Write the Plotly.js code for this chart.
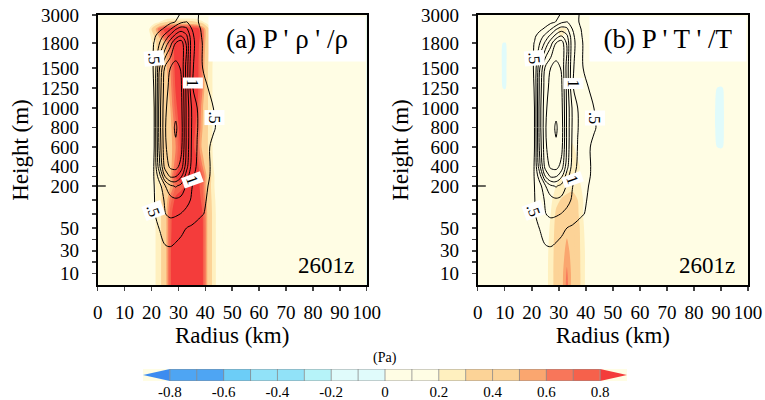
<!DOCTYPE html>
<html><head><meta charset="utf-8">
<script src="https://cdn.plot.ly/plotly-3.0.1.min.js"></script>
<style>html,body{margin:0;padding:0;background:#fff}#chart{width:765px;height:400px}</style>
</head><body><div id="chart"></div>
<script>
// ---------------- data ----------------
const radius = [0,10,16,19,21,23,25,27,29,31,33,35,37,39,41,43,45,48,55,70,90,100];
const heights = [0,10,30,50,100,150,200,300,400,600,800,1000,1250,1500,1800,2100,2400,2700,3000];

// contour-line field (same in both panels)
const lineField = [
 [0,0,0,0,0.05,0.1,0.15,0.15,0.15,0.12,0.1,0.08,0.05,0.03,0,0,0,0,0,0,0,0],
 [0,0,0,0.02,0.08,0.15,0.22,0.22,0.2,0.18,0.15,0.12,0.08,0.05,0.02,0,0,0,0,0,0,0],
 [0,0,0,0.05,0.2,0.35,0.44,0.46,0.43,0.4,0.36,0.3,0.22,0.15,0.1,0.05,0,0,0,0,0,0],
 [0,0,0,0.1,0.3,0.52,0.66,0.68,0.62,0.56,0.5,0.44,0.36,0.26,0.18,0.1,0.04,0,0,0,0,0],
 [0,0,0.03,0.15,0.46,0.72,0.98,1.12,1.08,0.98,0.86,0.72,0.62,0.52,0.42,0.3,0.2,0.08,0,0,0,0],
 [0,0,0.05,0.2,0.48,0.76,1.06,1.32,1.42,1.36,1.16,0.94,0.74,0.58,0.46,0.34,0.24,0.1,0.02,0,0,0],
 [0,0,0.06,0.22,0.5,0.82,1.45,1.9,2.05,1.85,1.45,1.02,0.8,0.62,0.5,0.38,0.28,0.12,0.03,0,0,0],
 [0,0,0.08,0.24,0.52,1.3,2.5,3.1,3.05,2.6,1.75,1.1,0.86,0.68,0.54,0.42,0.3,0.14,0.04,0,0,0],
 [0,0,0.08,0.25,0.52,1.9,3.2,3.6,3.7,3.3,2.2,1.3,0.92,0.7,0.54,0.44,0.33,0.15,0.05,0,0,0],
 [0,0,0.08,0.25,0.5,2.2,3.4,3.8,3.95,3.7,2.4,1.4,0.98,0.74,0.53,0.44,0.36,0.18,0.05,0,0,0],
 [0,0,0.08,0.26,0.5,2.3,3.45,3.85,4.05,3.8,2.4,1.45,1.02,0.8,0.64,0.53,0.45,0.25,0.06,0,0,0],
 [0,0,0.08,0.26,0.5,2.3,3.4,3.75,3.9,3.7,2.4,1.45,1.0,0.76,0.6,0.5,0.4,0.22,0.05,0,0,0],
 [0,0,0.08,0.27,0.52,2.2,3.3,3.65,3.8,3.6,2.35,1.05,0.8,0.62,0.5,0.38,0.3,0.15,0.03,0,0,0],
 [0,0,0.08,0.3,0.55,2.0,3.1,3.5,3.7,3.45,2.3,1.1,0.75,0.5,0.36,0.26,0.18,0.08,0.02,0,0,0],
 [0,0,0.06,0.28,0.52,1.0,1.6,2.3,3.0,3.3,2.4,1.2,0.8,0.48,0.3,0.2,0.1,0.04,0,0,0,0],
 [0,0,0.04,0.2,0.42,0.72,1.15,1.65,2.2,2.5,2.1,1.15,0.72,0.44,0.24,0.12,0.05,0,0,0,0,0],
 [0,0,0.02,0.1,0.25,0.4,0.58,0.95,1.45,1.75,1.6,1.0,0.66,0.4,0.2,0.1,0.03,0,0,0,0,0],
 [0,0,0,0.04,0.1,0.18,0.28,0.38,0.52,0.9,1.02,0.82,0.55,0.32,0.15,0.06,0,0,0,0,0,0],
 [0,0,0,0,0.05,0.1,0.16,0.24,0.38,0.56,0.68,0.64,0.54,0.38,0.2,0.08,0,0,0,0,0,0]
];

// shaded field, panel (a) P'rho'/rho
const fillA = [
 [0.05,0.05,0.05,0.1,0.18,0.26,0.4,0.78,0.95,1,1,1,0.96,0.82,0.45,0.25,0.14,0.07,0.05,0.05,0.05,0.05],
 [0.05,0.05,0.05,0.1,0.18,0.26,0.4,0.78,0.95,1,1,1,0.96,0.82,0.45,0.25,0.14,0.07,0.05,0.05,0.05,0.05],
 [0.05,0.05,0.05,0.1,0.18,0.26,0.4,0.78,0.95,1,1,1,0.96,0.82,0.45,0.25,0.14,0.07,0.05,0.05,0.05,0.05],
 [0.05,0.05,0.05,0.1,0.18,0.26,0.4,0.76,0.94,1,1,1,0.95,0.82,0.45,0.25,0.14,0.07,0.05,0.05,0.05,0.05],
 [0.05,0.05,0.05,0.1,0.18,0.26,0.4,0.75,0.92,0.98,1,0.98,0.94,0.8,0.45,0.25,0.14,0.07,0.05,0.05,0.05,0.05],
 [0.05,0.05,0.05,0.1,0.18,0.26,0.38,0.65,0.85,0.9,0.95,0.95,0.9,0.75,0.42,0.24,0.13,0.07,0.05,0.05,0.05,0.05],
 [0.05,0.05,0.05,0.1,0.18,0.26,0.34,0.5,0.68,0.75,0.85,0.9,0.88,0.7,0.4,0.22,0.12,0.07,0.05,0.05,0.05,0.05],
 [0.05,0.05,0.05,0.1,0.2,0.28,0.35,0.5,0.82,0.95,1,0.95,0.9,0.72,0.42,0.22,0.12,0.06,0.05,0.05,0.05,0.05],
 [0.05,0.05,0.05,0.1,0.2,0.28,0.32,0.45,0.68,0.88,0.95,0.92,0.86,0.6,0.35,0.2,0.1,0.06,0.05,0.05,0.05,0.05],
 [0.05,0.05,0.05,0.1,0.2,0.3,0.35,0.45,0.6,0.85,0.92,0.88,0.7,0.45,0.3,0.18,0.1,0.06,0.05,0.05,0.05,0.05],
 [0.05,0.05,0.05,0.1,0.2,0.3,0.36,0.46,0.66,0.9,0.95,0.9,0.75,0.5,0.3,0.18,0.1,0.06,0.05,0.05,0.05,0.05],
 [0.05,0.05,0.05,0.1,0.22,0.3,0.38,0.5,0.75,0.95,0.96,0.92,0.8,0.52,0.3,0.18,0.1,0.06,0.05,0.05,0.05,0.05],
 [0.05,0.05,0.05,0.1,0.22,0.32,0.4,0.55,0.82,0.96,1,0.95,0.85,0.6,0.3,0.18,0.1,0.06,0.05,0.05,0.05,0.05],
 [0.05,0.05,0.05,0.1,0.25,0.35,0.45,0.6,0.86,1,1,0.95,0.86,0.6,0.3,0.18,0.1,0.06,0.05,0.05,0.05,0.05],
 [0.05,0.05,0.05,0.12,0.25,0.38,0.5,0.7,0.9,1,1,0.96,0.88,0.65,0.35,0.2,0.1,0.06,0.05,0.05,0.05,0.05],
 [0.05,0.05,0.05,0.15,0.3,0.55,0.75,0.86,0.95,1,1,0.96,0.9,0.7,0.35,0.2,0.1,0.06,0.05,0.05,0.05,0.05],
 [0.05,0.05,0.05,0.18,0.42,0.7,0.85,0.9,0.95,0.96,0.95,0.92,0.88,0.65,0.35,0.18,0.1,0.06,0.05,0.05,0.05,0.05],
 [0.05,0.05,0.05,0.08,0.12,0.2,0.28,0.34,0.36,0.36,0.36,0.34,0.3,0.22,0.12,0.08,0.06,0.05,0.05,0.05,0.05,0.05],
 [0.05,0.05,0.05,0.05,0.05,0.05,0.05,0.05,0.05,0.05,0.05,0.05,0.05,0.05,0.05,0.05,0.05,0.05,0.05,0.05,0.05,0.05]
];

// shaded field, panel (b) P'T'/T
const fillB = [
 [0.05,0.05,0.05,0.05,0.06,0.08,0.16,0.24,0.36,0.45,0.64,0.45,0.36,0.24,0.12,0.07,0.05,0.05,0.05,0.05,0.05,0.05],
 [0.05,0.05,0.05,0.05,0.06,0.08,0.16,0.24,0.36,0.45,0.62,0.46,0.36,0.24,0.12,0.07,0.05,0.05,0.05,0.05,0.05,0.05],
 [0.05,0.05,0.05,0.05,0.06,0.08,0.15,0.24,0.35,0.42,0.55,0.44,0.35,0.24,0.12,0.07,0.05,0.05,0.05,0.05,0.05,0.05],
 [0.05,0.05,0.05,0.05,0.06,0.08,0.13,0.22,0.34,0.4,0.46,0.42,0.35,0.22,0.1,0.06,0.05,0.05,0.05,0.05,0.05,0.05],
 [0.05,0.05,0.05,0.05,0.06,0.07,0.1,0.2,0.32,0.36,0.38,0.36,0.32,0.2,0.1,0.06,0.05,0.05,0.05,0.05,0.05,0.05],
 [0.05,0.05,0.05,0.05,0.06,0.07,0.09,0.17,0.27,0.31,0.33,0.33,0.3,0.2,0.09,0.06,0.05,0.05,0.05,0.05,0.05,0.05],
 [0.05,0.05,0.05,0.05,0.05,0.06,0.08,0.12,0.2,0.24,0.26,0.28,0.26,0.16,0.08,0.05,0.05,0.05,0.05,0.05,0.05,0.05],
 [0.05,0.05,0.05,0.05,0.05,0.06,0.07,0.1,0.16,0.2,0.23,0.25,0.22,0.12,0.06,0.05,0.05,0.05,0.05,0.05,0.05,0.05],
 [0.05,0.05,0.05,0.05,0.05,0.05,0.06,0.07,0.09,0.12,0.16,0.21,0.22,0.17,0.09,0.05,0.05,0.05,0.05,0.05,0.05,0.05],
 [0.05,0.05,0.05,0.05,0.05,0.05,0.05,0.06,0.08,0.1,0.14,0.22,0.16,0.12,0.07,0.05,0.05,0.05,0.05,0.05,-0.004,0.05],
 [0.05,0.05,0.05,0.05,0.05,0.05,0.05,0.06,0.08,0.12,0.21,0.12,0.08,0.06,0.05,0.05,0.05,0.05,0.05,0.05,-0.006,0.05],
 [0.05,0.05,0.05,0.05,0.05,0.05,0.05,0.05,0.06,0.08,0.1,0.08,0.06,0.05,0.05,0.05,0.05,0.05,0.05,0.05,-0.006,0.05],
 [0.05,-0.004,0.05,0.05,0.05,0.05,0.05,0.05,0.05,0.06,0.06,0.05,0.05,0.05,0.05,0.05,0.05,0.05,0.05,0.05,-0.004,0.05],
 [0.05,-0.006,0.05,0.05,0.05,0.05,0.05,0.05,0.05,0.05,0.05,0.05,0.05,0.05,0.05,0.05,0.05,0.05,0.05,0.05,0.05,0.05],
 [0.05,-0.004,0.05,0.05,0.05,0.05,0.05,0.05,0.06,0.08,0.06,0.05,0.05,0.05,0.05,0.05,0.05,0.05,0.05,0.05,0.05,0.05],
 [0.05,0.05,0.05,0.05,0.05,0.05,0.05,0.06,0.15,0.22,0.12,0.06,0.05,0.05,0.05,0.05,0.05,0.05,0.05,0.05,0.05,0.05],
 [0.05,0.05,0.05,0.05,0.05,0.05,0.06,0.12,0.18,0.24,0.2,0.08,0.05,0.05,0.05,0.05,0.05,0.05,0.05,0.05,0.05,0.05],
 [0.05,0.05,0.05,0.05,0.05,0.05,0.05,0.05,0.05,0.05,0.05,0.05,0.05,0.05,0.05,0.05,0.05,0.05,0.05,0.05,0.05,0.05],
 [0.05,0.05,0.05,0.05,0.05,0.05,0.05,0.05,0.05,0.05,0.05,0.05,0.05,0.05,0.05,0.05,0.05,0.05,0.05,0.05,0.05,0.05]
];

const shadeLevels = [-0.8,-0.7,-0.6,-0.5,-0.4,-0.3,-0.2,-0.1,0,0.1,0.2,0.3,0.4,0.5,0.6,0.7,0.8];
const bandColors = ['#3c8cf0','#4ea5f3','#4ea5f3','#6ccdf7','#91e2f8','#91e2f8','#b6f3f9','#e0fbfb','#e0fbfb',
                    '#fffde4','#fffde4','#fff0bf','#fcd397','#fcd397','#faa66f','#f8765a','#f6614b','#f43c3b'];
const lineLevels = [0.5, 4.0, 0.5];  // start, end, step

const radiusTicks = [0,10,20,30,40,50,60,70,80,90,100];
const heightTicks = [10,20,30,40,50,100,150,200,300,400,600,800,1000,1250,1500,1800,3000];
const heightTickLabels = ['10','','30','','50','','','200','','400','600','800','1000','1250','1500','1800','3000'];
const cbTicks = [-0.8,-0.6,-0.4,-0.2,0,0.2,0.4,0.6,0.8];
const cbTickLabels = ['-0.8','-0.6','-0.4','-0.2','0','0.2','0.4','0.6','0.8'];

const lineLabelR = [20.8, 35.5, 43.3, 35.0, 20.8];
const lineLabelH = [1620, 1310, 900, 262, 114];
const lineLabelText = ['.5','1','.5','1','.5'];
const lineLabelAngle = [85, 90, 90, 70, 70];

// stretched vertical axis (piecewise-linear height scale)
const scaleHeights = [0,50,200,1000,1500,1800,3000];
const scaleUnits   = [0,57,99,177,217,242,270];

// ---------------- build ----------------
function stretch(h){
  for(let i=1;i<scaleHeights.length;i++){
    if(h<=scaleHeights[i]){
      const f=(h-scaleHeights[i-1])/(scaleHeights[i]-scaleHeights[i-1]);
      return scaleUnits[i-1]+f*(scaleUnits[i]-scaleUnits[i-1]);
    }
  }
  return scaleUnits[scaleUnits.length-1];
}
const ys = heights.map(stretch);
const step = shadeLevels[1]-shadeLevels[0];
const zLo = shadeLevels[0]-step/2, zHi = shadeLevels[shadeLevels.length-1]+step/2;
const nB = bandColors.length-1;
const cscale = [];
bandColors.forEach((c,k)=>{
  cscale.push([Math.max(0,(k-0.5)/nB), c]);
  cscale.push([Math.min(1,(k+0.5)/nB), c]);
});

const FONT = "'Liberation Serif', 'Times New Roman', 'DejaVu Serif', serif";

function fillTrace(z, xa, ya){
  return {type:'contour', x:radius, y:ys, z:z, xaxis:xa, yaxis:ya,
    autocontour:false, contours:{start:shadeLevels[0], end:shadeLevels[shadeLevels.length-1], size:step, coloring:'fill', showlines:false},
    colorscale:cscale, zmin:zLo, zmax:zHi, zauto:false, showscale:false,
    line:{width:0, smoothing:0.8}, hoverinfo:'skip'};
}
function lineTrace(xa, ya){
  return {type:'contour', x:radius, y:ys, z:lineField, xaxis:xa, yaxis:ya,
    autocontour:false, contours:{start:lineLevels[0], end:lineLevels[1], size:lineLevels[2], coloring:'none'},
    line:{color:'#000', width:1, smoothing:1}, showscale:false, hoverinfo:'skip'};
}

const bandMids = shadeLevels.slice(0,-1).map((v,i)=>(v+shadeLevels[i+1])/2);
const l0 = shadeLevels[0], lN = shadeLevels[shadeLevels.length-1];
const sepX = [], sepY = [];
shadeLevels.forEach(v=>{ sepX.push(v,v,null); sepY.push(0,1,null); });
sepX.push(l0,lN,null,l0,lN); sepY.push(0,0,null,1,1);

const traces = [
  fillTrace(fillA,'x','y'), lineTrace('x','y'),
  fillTrace(fillB,'x2','y2'), lineTrace('x2','y2'),
  {type:'heatmap', x:shadeLevels, y:[0,1], z:[bandMids], xaxis:'x3', yaxis:'y3',
   colorscale:cscale, zmin:zLo, zmax:zHi, showscale:false, hoverinfo:'skip'},
  {type:'scatter', x:[l0,l0-step,l0,l0], y:[0,0.5,1,0], xaxis:'x3', yaxis:'y3', mode:'lines',
   fill:'toself', fillcolor:bandColors[0], line:{width:0}, hoverinfo:'skip', showlegend:false},
  {type:'scatter', x:[lN,lN+step,lN,lN], y:[0,0.5,1,0], xaxis:'x3', yaxis:'y3', mode:'lines',
   fill:'toself', fillcolor:bandColors[nB], line:{width:0}, hoverinfo:'skip', showlegend:false},
  {type:'scatter', x:sepX, y:sepY, xaxis:'x3', yaxis:'y3', mode:'lines',
   line:{color:'#8a8a8a', width:0.8}, hoverinfo:'skip', showlegend:false}
];

const W=765, H=400;
const plotTop=15, plotBot=285;
const yDom=[1-plotBot/H, 1-plotTop/H];
function xAxis(dom, anchor){
  return {domain:dom, anchor:anchor, range:[0,100], tickvals:radiusTicks, ticks:'outside', ticklen:4, tickwidth:1.5,
    showline:true, mirror:true, linewidth:1.8, linecolor:'#000', showgrid:false, zeroline:false,
    tickfont:{family:FONT, size:19, color:'#000'}, ticklabelstandoff:5,
    title:{text:'Radius (km)', font:{family:FONT, size:23, color:'#000'}, standoff:4}};
}
function yAxis(anchor){
  return {domain:yDom, anchor:anchor, range:[0,scaleUnits[scaleUnits.length-1]],
    tickvals:heightTicks.map(stretch), ticktext:heightTickLabels, ticks:'outside', ticklen:4, tickwidth:1.5,
    showline:true, mirror:true, linewidth:1.8, linecolor:'#000', showgrid:false, zeroline:false,
    tickfont:{family:FONT, size:19, color:'#000'}, ticklabelstandoff:9,
    title:{text:'Height (m)', font:{family:FONT, size:23, color:'#000'}, standoff:6}};
}

const annotations = [];
const panelTitles = ["(a) P ' ρ ' /ρ", "(b) P ' T ' /T"];
[['x','y'],['x2','y2']].forEach((ax,p)=>{
  annotations.push({xref:ax[0]+' domain', yref:ax[1]+' domain', x:1, y:1, xanchor:'right', yanchor:'top',
    xshift:-1, yshift:-1, width:154, height:42, bgcolor:'#fff', showarrow:false, align:'center',
    text:panelTitles[p], font:{family:FONT, size:27, color:'#000'}});
  annotations.push({xref:ax[0]+' domain', yref:ax[1]+' domain', x:0.96, y:0.02, xanchor:'right', yanchor:'bottom',
    showarrow:false, text:'2601z', font:{family:FONT, size:23, color:'#000'}});
  lineLabelText.forEach((t,i)=>{
    annotations.push({xref:ax[0], yref:ax[1], x:lineLabelR[i], y:stretch(lineLabelH[i]), showarrow:false,
      text:t, textangle:lineLabelAngle[i], bgcolor:'#fff', borderpad:1,
      font:{family:FONT, size:16, color:'#000'}});
  });
});
annotations.push({xref:'x3', yref:'y3 domain', x:0, y:1, yanchor:'bottom', yshift:1, showarrow:false,
  text:'(Pa)', font:{family:FONT, size:14, color:'#000'}});

const shapes = [['x','y'],['x2','y2']].map(ax=>({type:'line', xref:ax[0]+' domain', yref:ax[1],
  x0:0, x1:0.03, y0:stretch(200), y1:stretch(200), line:{color:'#000', width:1.2}}));

const layout = {
  width:W, height:H, margin:{l:0,r:0,t:0,b:0}, paper_bgcolor:'#fff', plot_bgcolor:'#fffde4',
  showlegend:false, font:{family:FONT, color:'#000'},
  xaxis: xAxis([97.7/W, 366.7/W], 'y'),
  yaxis: yAxis('x'),
  xaxis2: xAxis([477.7/W, 748/W], 'y2'),
  yaxis2: yAxis('x2'),
  xaxis3: {domain:[143/W, 627/W], anchor:'y3', range:[l0-step, lN+step], tickvals:cbTicks, ticktext:cbTickLabels,
    ticks:'', showline:false, showgrid:false, zeroline:false, ticklabelstandoff:0,
    tickfont:{family:FONT, size:15, color:'#000'}, fixedrange:true},
  yaxis3: {domain:[1-381/H, 1-369/H], anchor:'x3', range:[0,1], visible:false, fixedrange:true},
  annotations: annotations,
  shapes: shapes
};

Plotly.newPlot('chart', traces, layout, {staticPlot:true, displayModeBar:false});
</script>
</body></html>
